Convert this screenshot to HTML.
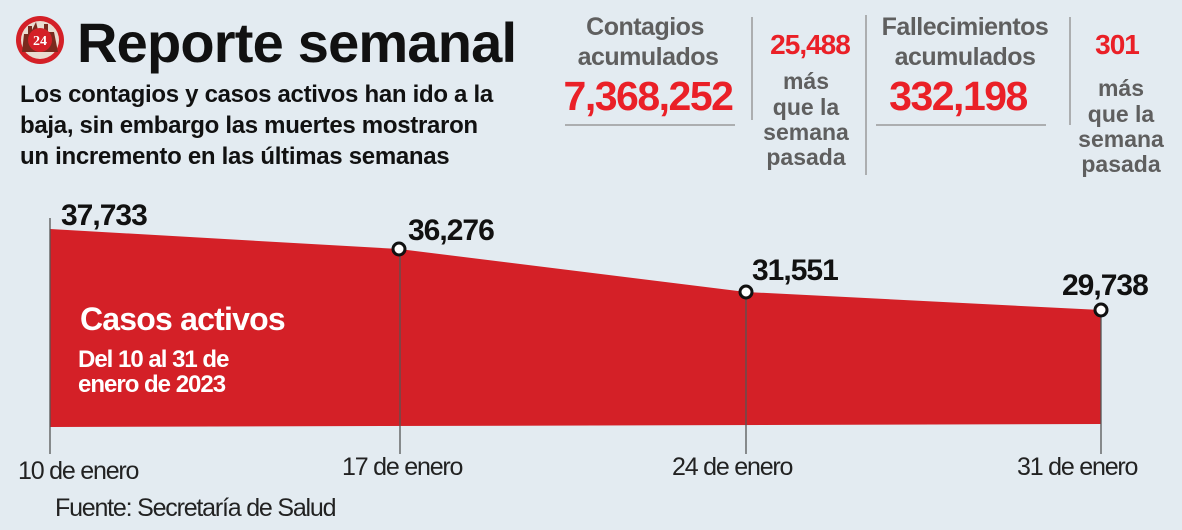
<!DOCTYPE html>
<html><head><meta charset="utf-8"><style>
body{margin:0;background:#e3ebf1;}
svg{display:block;font-family:"Liberation Sans",sans-serif;}
</style></head><body>
<svg width="1182" height="530" viewBox="0 0 1182 530">
<rect width="1182" height="530" fill="#e3ebf1"/>
<!-- logo -->
<circle cx="40" cy="40" r="24" fill="#d42027"/>
<circle cx="40" cy="40" r="19" fill="#e9dcd0"/>
<path d="M22 52 L24 34 L28 34 L28 26 L32 26 L32 30 L36 22 L38 30 L44 30 L44 24 L48 24 L48 32 L54 32 L58 52 Z" fill="#7a2a1e"/>
<circle cx="40" cy="40" r="12" fill="#d42027"/>
<text x="40" y="45" font-size="14" font-weight="bold" fill="#fff" text-anchor="middle" font-family="Liberation Serif,serif">24</text>
<text x="77" y="62" font-size="56" font-weight="bold" fill="#111" letter-spacing="-0.8">Reporte semanal</text>
<g font-size="24" font-weight="bold" fill="#111" letter-spacing="-0.3">
<text x="20" y="102">Los contagios y casos activos han ido a la</text>
<text x="20" y="133">baja, sin embargo las muertes mostraron</text>
<text x="20" y="164">un incremento en las últimas semanas</text>
</g>
<!-- stats -->
<g fill="#5f5f5f" font-weight="bold" font-size="25" text-anchor="middle" letter-spacing="-0.5">
<text x="645" y="35">Contagios</text>
<text x="648" y="65">acumulados</text>
<text x="965" y="35">Fallecimientos</text>
<text x="965" y="65">acumulados</text>
</g>
<g fill="#ea2027" font-weight="bold" text-anchor="middle" letter-spacing="-1.5">
<text x="648" y="110" font-size="41">7,368,252</text>
<text x="958" y="110" font-size="41">332,198</text>
<text x="810" y="54" font-size="28" letter-spacing="-1">25,488</text>
<text x="1117" y="54" font-size="28" letter-spacing="-1">301</text>
</g>
<g fill="#5f5f5f" font-weight="bold" font-size="23" text-anchor="middle">
<text x="806" y="89">más</text><text x="806" y="115">que la</text><text x="806" y="140">semana</text><text x="806" y="165">pasada</text>
<text x="1121" y="96">más</text><text x="1121" y="122">que la</text><text x="1121" y="147">semana</text><text x="1121" y="172">pasada</text>
</g>
<g stroke="#9a9a9a" stroke-width="1.5">
<line x1="565" y1="125" x2="735" y2="125"/>
<line x1="876" y1="125" x2="1046" y2="125"/>
<line x1="752" y1="17" x2="752" y2="120"/>
<line x1="866" y1="15" x2="866" y2="175"/>
<line x1="1070" y1="17" x2="1070" y2="125"/>
</g>
<!-- chart -->
<polygon points="50,229 399,249 746,292 1101,310 1101,424 50,427" fill="#d42027"/>
<g stroke="#555" stroke-width="1.3">
<line x1="50" y1="218" x2="50" y2="454"/>
<line x1="400" y1="249" x2="400" y2="454"/>
<line x1="746" y1="292" x2="746" y2="454"/>
<line x1="1101" y1="310" x2="1101" y2="454"/>
</g>
<g fill="#fff" stroke="#111" stroke-width="3">
<circle cx="399" cy="249" r="6"/>
<circle cx="746" cy="292" r="6"/>
<circle cx="1101" cy="310" r="6"/>
</g>
<g font-size="30" font-weight="bold" fill="#111" letter-spacing="-1">
<text x="61" y="225">37,733</text>
<text x="408" y="240">36,276</text>
<text x="752" y="280">31,551</text>
<text x="1062" y="295">29,738</text>
</g>
<text x="80" y="330" font-size="32" font-weight="bold" fill="#fff" letter-spacing="-0.8">Casos activos</text>
<text x="78" y="367" font-size="24" font-weight="bold" fill="#fff" letter-spacing="-1">Del 10 al 31 de</text>
<text x="78" y="392" font-size="24" font-weight="bold" fill="#fff" letter-spacing="-1">enero de 2023</text>
<g font-size="25" fill="#222" letter-spacing="-1.2">
<text x="18" y="479">10 de enero</text>
<text x="342" y="475">17 de enero</text>
<text x="672" y="475">24 de enero</text>
<text x="1017" y="475">31 de enero</text>
<text x="55" y="516">Fuente: Secretaría de Salud</text>
</g>
</svg>
</body></html>
